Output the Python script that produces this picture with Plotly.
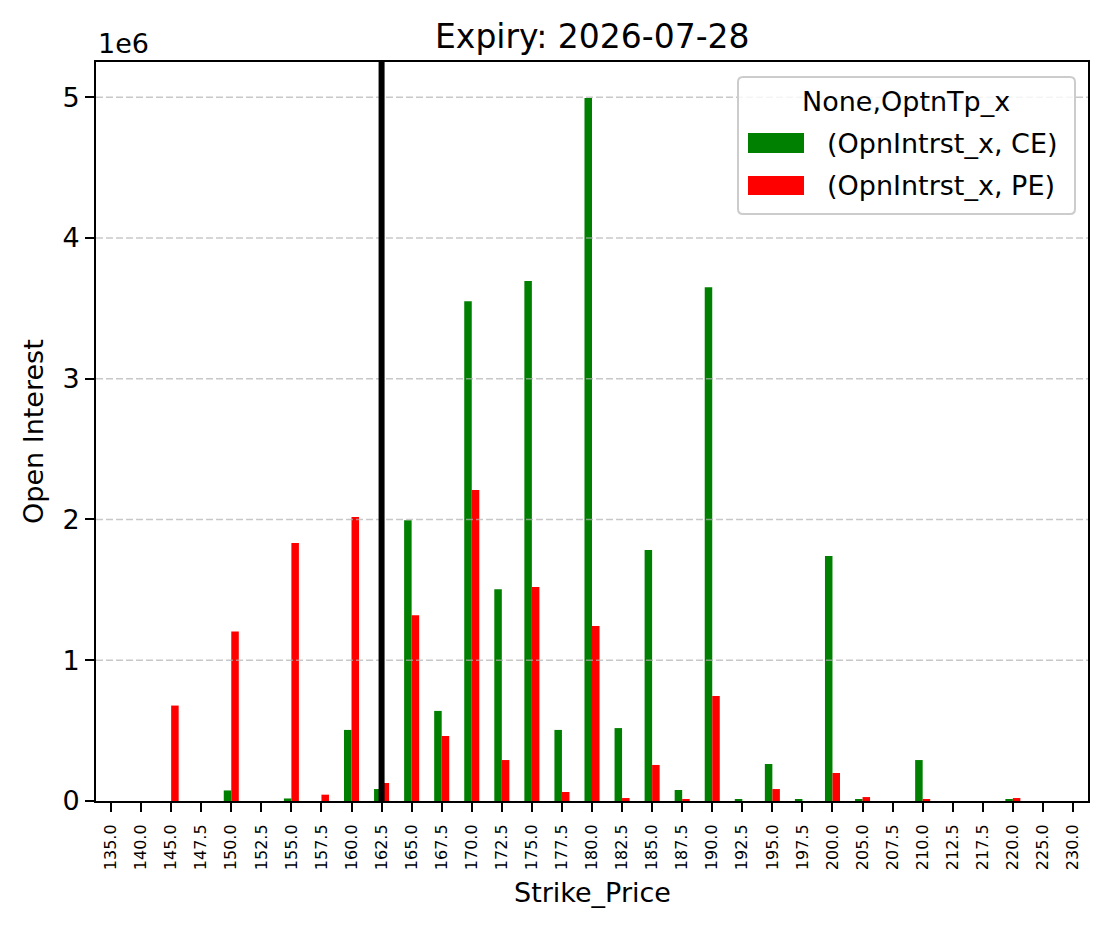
import plotly.graph_objects as go

# ---------------- data ----------------
strikes = ["135.0", "140.0", "145.0", "147.5", "150.0", "152.5", "155.0", "157.5", "160.0",
           "162.5", "165.0", "167.5", "170.0", "172.5", "175.0", "177.5", "180.0", "182.5",
           "185.0", "187.5", "190.0", "192.5", "195.0", "197.5", "200.0", "205.0", "207.5",
           "210.0", "212.5", "217.5", "220.0", "225.0", "230.0"]
ce_oi = [0, 0, 0, 0, 75000, 0, 18000, 0, 505000,
         85000, 1995000, 640000, 3550000, 1505000, 3695000, 505000, 4995000, 518000,
         1783000, 78000, 3650000, 10000, 263000, 8000, 1740000, 10000, 0,
         291000, 0, 0, 8000, 0, 0]
pe_oi = [0, 0, 678000, 0, 1205000, 0, 1832000, 45000, 2017000,
         128000, 1320000, 462000, 2209000, 291000, 1520000, 64000, 1243000, 21000,
         256000, 14000, 746000, 0, 85000, 0, 199000, 28000, 0,
         10000, 0, 0, 21000, 0, 0]
spot_strike = "162.5"
y_ticks = [0, 1e6, 2e6, 3e6, 4e6, 5e6]
y_ticktext = ["0", "1", "2", "3", "4", "5"]
title_text = "Expiry: 2026-07-28"
legend_title = "None,OptnTp_x"
series_names = ["(OpnIntrst_x, CE)", "(OpnIntrst_x, PE)"]
series_colors = ["#008000", "#ff0000"]

# ---------------- layout geometry (pixels) ----------------
W, H = 1108, 929
L, R, T, B = 96, 1088, 62, 801
FONT = "DejaVu Sans"


def px(x):
    return (x - L) / (R - L)


def py(y):
    return (B - y) / (B - T)


fig = go.Figure()
for vals, name, col in zip([ce_oi, pe_oi], series_names, series_colors):
    fig.add_trace(go.Bar(x=strikes, y=vals, name=name, marker=dict(color=col, line=dict(width=0)),
                         showlegend=False))

shapes = []
# grid lines above bars (matplotlib draws grid over patches)
for v in y_ticks[1:]:
    shapes.append(dict(type="line", xref="paper", yref="y", x0=0, x1=1, y0=v, y1=v,
                       line=dict(color="rgba(176,176,176,0.7)", width=1.6, dash="7px,3px"),
                       layer="above"))
# spot line
idx = strikes.index(spot_strike)
shapes.append(dict(type="line", xref="x", yref="paper", x0=idx, x1=idx, y0=0, y1=1,
                   line=dict(color="black", width=6), layer="above"))

# legend box (rounded)
bx0, bx1, by0, by1, r = 738, 1075, 77, 214, 5
path = (f"M {px(bx0 + r)},{py(by0)} L {px(bx1 - r)},{py(by0)} "
        f"Q {px(bx1)},{py(by0)} {px(bx1)},{py(by0 + r)} "
        f"L {px(bx1)},{py(by1 - r)} Q {px(bx1)},{py(by1)} {px(bx1 - r)},{py(by1)} "
        f"L {px(bx0 + r)},{py(by1)} Q {px(bx0)},{py(by1)} {px(bx0)},{py(by1 - r)} "
        f"L {px(bx0)},{py(by0 + r)} Q {px(bx0)},{py(by0)} {px(bx0 + r)},{py(by0)} Z")
shapes.append(dict(type="path", xref="paper", yref="paper", path=path,
                   fillcolor="rgba(255,255,255,0.8)", line=dict(color="#cccccc", width=2),
                   layer="above"))
patch_rows = [(133, 153), (176, 195)]
for (y0, y1), col in zip(patch_rows, series_colors):
    shapes.append(dict(type="rect", xref="paper", yref="paper", x0=px(748), x1=px(804),
                       y0=py(y1), y1=py(y0), fillcolor=col, line=dict(width=0), layer="above"))

annotations = [
    dict(text=title_text, xref="paper", yref="paper", x=px(592), y=py(36), xanchor="center",
         yanchor="middle", showarrow=False, font=dict(size=33, color="black", family=FONT)),
    dict(text="1e6", xref="paper", yref="paper", x=px(96), y=py(44), xanchor="left",
         yanchor="middle", showarrow=False, font=dict(size=27, color="black", family=FONT)),
    dict(text="Open Interest", xref="paper", yref="paper", x=px(33), y=py(432), xanchor="center",
         yanchor="middle", textangle=-90, showarrow=False,
         font=dict(size=27, color="black", family=FONT)),
    dict(text="Strike_Price", xref="paper", yref="paper", x=px(592), y=py(893), xanchor="center",
         yanchor="middle", showarrow=False, font=dict(size=27, color="black", family=FONT)),
    dict(text=legend_title, xref="paper", yref="paper", x=px(906), y=py(101), xanchor="center",
         yanchor="middle", showarrow=False, font=dict(size=27, color="black", family=FONT)),
]
for (y0, y1), name in zip(patch_rows, series_names):
    annotations.append(dict(text=name, xref="paper", yref="paper", x=px(825), y=py((y0 + y1) / 2),
                            xanchor="left", yanchor="middle", showarrow=False,
                            font=dict(size=27, color="black", family=FONT)))

fig.update_layout(
    width=W, height=H,
    margin=dict(l=L, r=W - R, t=T, b=H - B, pad=0),
    paper_bgcolor="white", plot_bgcolor="white",
    barmode="group", bargap=0.5, bargroupgap=0,
    font=dict(family=FONT, color="black"),
    shapes=shapes, annotations=annotations,
    xaxis=dict(type="category", range=[-0.5, len(strikes) - 0.5], tickangle=-90,
               tickfont=dict(size=16, family=FONT, color="black"), ticklabelstandoff=6,
               showline=True, mirror=True, linecolor="black", linewidth=2,
               ticks="outside", ticklen=9, tickwidth=2, tickcolor="black",
               showgrid=False, zeroline=False, fixedrange=True),
    yaxis=dict(range=[0, 5.25e6], tickvals=y_ticks, ticktext=y_ticktext,
               tickfont=dict(size=27, family=FONT, color="black"),
               showline=True, mirror=True, linecolor="black", linewidth=2,
               ticks="outside", ticklen=9, tickwidth=2, tickcolor="black",
               showgrid=False, zeroline=False, fixedrange=True),
)

fig.write_html("out.html")
